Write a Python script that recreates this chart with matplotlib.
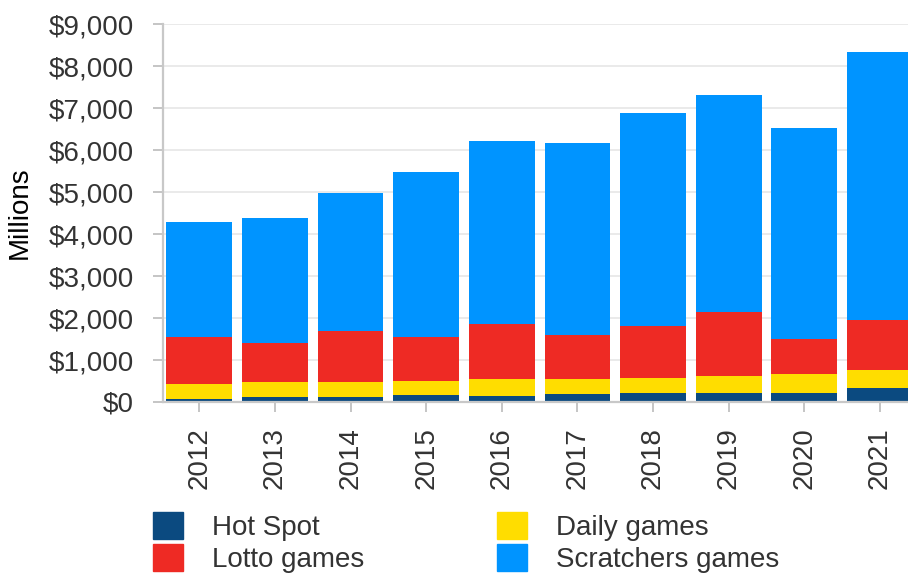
import matplotlib
matplotlib.use("Agg")
import matplotlib.pyplot as plt
import numpy as np
from matplotlib.patches import Patch
from matplotlib.ticker import FuncFormatter

# Sales by game type, $ millions
years = ["2012", "2013", "2014", "2015", "2016", "2017", "2018", "2019", "2020", "2021"]
hot_spot = [80, 112, 115, 159, 152, 183, 222, 222, 222, 325]
daily = [341, 357, 354, 349, 404, 373, 357, 405, 453, 437]
lotto = [1134, 929, 1214, 1047, 1301, 1039, 1223, 1516, 825, 1182]
scratchers = [2738, 2976, 3293, 3921, 4357, 4564, 5086, 5167, 5031, 6381]

series = [
    ("Hot Spot", hot_spot, "#0b4a80"),
    ("Daily games", daily, "#ffdd00"),
    ("Lotto games", lotto, "#ee2a24"),
    ("Scratchers games", scratchers, "#0094ff"),
]

plt.rcParams["font.family"] = ["Liberation Sans", "DejaVu Sans"]
text_color = "#333333"
fs = 20

fig = plt.figure(figsize=(9.08, 5.78), dpi=100)
ax = fig.add_axes([163 / 908, 176 / 578, 1 - 163 / 908, 378 / 578])

x = np.arange(len(years))
bottom = np.zeros(len(years))
for name, vals, color in series:
    ax.bar(x, vals, width=0.87, bottom=bottom, color=color, label=name, zorder=2)
    bottom += np.array(vals)

ax.set_ylim(0, 9000)
ax.set_xlim(-0.48, 9.37)
ax.set_yticks(np.arange(0, 9001, 1000))
ax.yaxis.set_major_formatter(FuncFormatter(lambda v, p: f"${v:,.0f}"))
ax.set_xticks(x)
ax.set_xticklabels(years, rotation=90)
ax.grid(axis="y", color="#e6e6e6", linewidth=1.2, zorder=0)
ax.set_axisbelow(True)

for side in ["top", "right"]:
    ax.spines[side].set_visible(False)
for side in ["left", "bottom"]:
    ax.spines[side].set_color("#c8c8c8")
    ax.spines[side].set_linewidth(1.6)
ax.spines["bottom"].set_zorder(3)

ax.tick_params(axis="y", length=7, width=1.2, color="#bbbbbb", pad=14,
               labelsize=fs, labelcolor=text_color)
ax.tick_params(axis="x", length=7, width=1.2, color="#bbbbbb", pad=11,
               labelsize=fs, labelcolor=text_color)
ax.set_ylabel("Millions", fontsize=fs, color="black")
ax.yaxis.set_label_coords(-0.175, 0.5)

# legend: column-major order gives Hot Spot / Lotto | Daily / Scratchers
order = [0, 2, 1, 3]
handles = [Patch(color=series[i][2]) for i in order]
labels = [series[i][0] for i in order]
fig.legend(handles, labels, loc="upper left", bbox_to_anchor=(153 / 908, 1 - 512 / 578),
           ncol=2, frameon=False, fontsize=fs, handlelength=1.08, handleheight=1.1,
           handletextpad=1.03, columnspacing=4.8, labelspacing=0.12, borderpad=0,
           borderaxespad=0, labelcolor=text_color)

fig.savefig("out.png", dpi=100)
